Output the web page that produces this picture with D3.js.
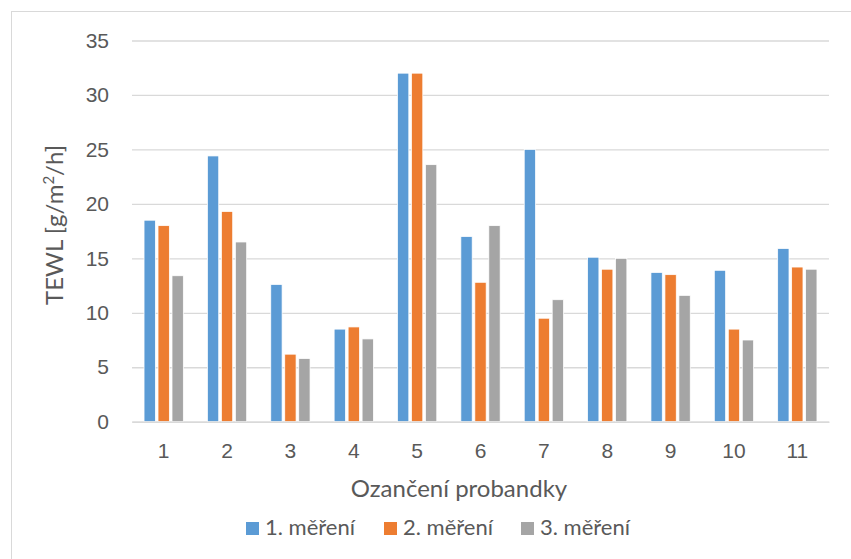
<!DOCTYPE html>
<html>
<head>
<meta charset="utf-8">
<script src="https://cdn.jsdelivr.net/npm/d3@7"></script>
<style>
  body { margin: 0; background: #fff; }
  svg { display: block; font-family: Lato, "Open Sans", sans-serif; }
</style>
</head>
<body>
<svg id="chart" width="851" height="559"></svg>
<script>
// data
const categories = ['1', '2', '3', '4', '5', '6', '7', '8', '9', '10', '11'];
const seriesNames = ['1. měření', '2. měření', '3. měření'];
const mereni1 = [18.5, 24.4, 12.6, 8.5, 32.0, 17.0, 25.0, 15.1, 13.7, 13.9, 15.9];
const mereni2 = [18.0, 19.3, 6.2, 8.7, 32.0, 12.8, 9.5, 14.0, 13.5, 8.5, 14.2];
const mereni3 = [13.4, 16.5, 5.8, 7.6, 23.6, 18.0, 11.2, 15.0, 11.6, 7.5, 14.0];
const yTicks = [0, 5, 10, 15, 20, 25, 30, 35];
const colors = ['#5b9bd5', '#ed7d31', '#a5a5a5'];

const seriesValues = [mereni1, mereni2, mereni3];

const width = 851;
const height = 559;
const plot = { left: 132, right: 829, top: 40.5, bottom: 421.7 };
const gridColor = '#d9d9d9';
const textColor = '#595959';

const svg = d3.select('#chart');

// chart area border (runs off the right/bottom edge in the reference)
svg.append('rect')
  .attr('x', 11.5).attr('y', 11.5)
  .attr('width', width).attr('height', height)
  .attr('fill', 'none')
  .attr('stroke', gridColor)
  .attr('stroke-width', 1);

const y = d3.scaleLinear().domain([0, 35]).range([plot.bottom, plot.top]);
const x0 = d3.scaleBand().domain(categories).range([plot.left, plot.right]).padding(0);
const groupWidth = x0.bandwidth() * 0.62;
const x1 = d3.scaleBand().domain(seriesNames)
  .range([(x0.bandwidth() - groupWidth) / 2, (x0.bandwidth() + groupWidth) / 2])
  .paddingInner(0.19).paddingOuter(0);

// gridlines + y labels
const yAxis = d3.axisLeft(y)
  .tickValues(yTicks)
  .tickSize(-(plot.right - plot.left))
  .tickPadding(23);

const gy = svg.append('g')
  .attr('transform', `translate(${plot.left},0)`)
  .call(yAxis);
gy.select('.domain').remove();
gy.selectAll('.tick line').attr('stroke', gridColor).attr('stroke-width', 1.3);
gy.selectAll('.tick text')
  .attr('fill', textColor)
  .style('font-size', '21px');

// bars
const groups = svg.append('g')
  .selectAll('g')
  .data(categories)
  .join('g')
  .attr('transform', (d) => `translate(${x0(d)},0)`);

groups.selectAll('rect')
  .data((d, i) => seriesNames.map((s, k) => ({ s, k, v: seriesValues[k][i] })))
  .join('rect')
  .attr('x', (d) => x1(d.s))
  .attr('width', x1.bandwidth())
  .attr('y', (d) => y(d.v))
  .attr('height', (d) => y(0) - y(d.v))
  .attr('fill', (d) => colors[d.k])
  .attr('stroke', '#fff')
  .attr('stroke-width', 0.75);

// x axis
const xAxis = d3.axisBottom(x0).tickSize(0).tickPadding(21);
const gx = svg.append('g')
  .attr('transform', `translate(0,${plot.bottom})`)
  .call(xAxis);
gx.select('.domain').attr('stroke', gridColor).attr('stroke-width', 1.5);
gx.selectAll('.tick text')
  .attr('fill', textColor)
  .style('font-size', '21px');

// axis titles
svg.append('text')
  .attr('x', 459)
  .attr('y', 497)
  .attr('text-anchor', 'middle')
  .attr('fill', textColor)
  .style('font-size', '24px')
  .text('Ozančení probandky');

const yTitle = svg.append('text')
  .attr('transform', 'translate(63,225) rotate(-90)')
  .attr('text-anchor', 'middle')
  .attr('fill', textColor)
  .style('font-size', '24px');
yTitle.append('tspan').text('TEWL [g/m');
yTitle.append('tspan').attr('dy', -9).style('font-size', '15px').text('2');
yTitle.append('tspan').attr('dy', 9).text('/h]');

// legend
const legendX = [246, 384, 521];
const legend = svg.append('g')
  .selectAll('g')
  .data(seriesNames)
  .join('g')
  .attr('transform', (d, i) => `translate(${legendX[i]},522)`);
legend.append('rect')
  .attr('width', 13).attr('height', 13)
  .attr('fill', (d, i) => colors[i]);
legend.append('text')
  .attr('x', 19)
  .attr('y', 13)
  .attr('fill', textColor)
  .style('font-size', '22px')
  .text((d) => d);
</script>
</body>
</html>
